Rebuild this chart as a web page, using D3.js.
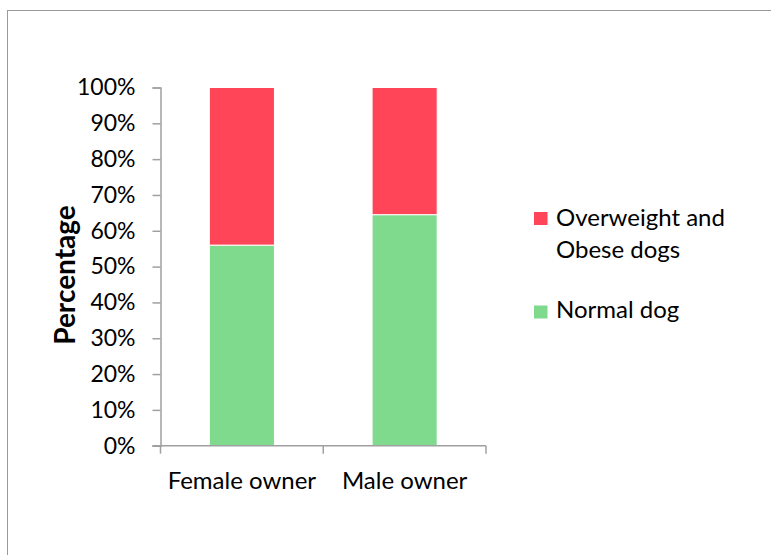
<!DOCTYPE html>
<html>
<head>
<meta charset="utf-8">
<script src="https://cdn.jsdelivr.net/npm/d3@7"></script>
<style>
  html, body { margin: 0; padding: 0; background: #fff; }
  svg { display: block; }
  text { font-family: Lato, "Open Sans", sans-serif; fill: #000; }
</style>
</head>
<body>
<svg id="chart" width="771" height="555"></svg>
<script>
// Owner groups and the share of dogs in each weight class
const categories = ["Female owner", "Male owner"];
const normalDog = [0.56, 0.645];
const overweightObese = [0.44, 0.355];
const seriesNames = ["Normal dog", "Overweight and Obese dogs"];
const seriesColors = ["#7fda8e", "#ff4557"];
const yTicks = [0, 0.1, 0.2, 0.3, 0.4, 0.5, 0.6, 0.7, 0.8, 0.9, 1.0];

const svg = d3.select("#chart");

// outer chart frame
svg.append("rect")
  .attr("x", 7.5).attr("y", 10.5)
  .attr("width", 800).attr("height", 600)
  .attr("fill", "none").attr("stroke", "#9a9a9a").attr("stroke-width", 1);

const plot = { left: 160.5, right: 486, top: 87.5, bottom: 445.7 };

const x = d3.scaleBand()
  .domain(categories)
  .range([plot.left, plot.right])
  .paddingInner(0.6).paddingOuter(0.3);

const y = d3.scaleLinear().domain([0, 1]).range([plot.bottom, plot.top]);

const rows = categories.map((c, i) => ({ cat: c, normal: normalDog[i], over: overweightObese[i] }));
const stacked = d3.stack().keys(["normal", "over"])(rows);

svg.append("g").selectAll("g")
  .data(stacked)
  .join("g")
  .attr("fill", (d, i) => seriesColors[i])
  .selectAll("rect")
  .data(d => d)
  .join("rect")
  .attr("x", d => x(d.data.cat))
  .attr("width", x.bandwidth())
  .attr("y", d => y(d[1]))
  .attr("height", d => y(d[0]) - y(d[1]))
  .attr("stroke", "#fff")
  .attr("stroke-width", 1);

// y axis
const yAxis = svg.append("g")
  .attr("transform", `translate(${plot.left},0)`)
  .call(d3.axisLeft(y).tickValues(yTicks).tickFormat(d3.format(".0%")).tickSize(8).tickPadding(17));
yAxis.select(".domain").attr("stroke", "#a0a0a0").attr("stroke-width", 1.5);
yAxis.selectAll(".tick line").attr("stroke", "#a0a0a0").attr("stroke-width", 1.5);
yAxis.selectAll("text").style("font-size", "23px").attr("fill", "#000");

// x axis with tick marks at category boundaries
const xAxisG = svg.append("g").attr("transform", `translate(0,${plot.bottom})`);
xAxisG.append("line")
  .attr("x1", plot.left - 8).attr("x2", plot.right)
  .attr("stroke", "#a0a0a0").attr("stroke-width", 1.5);
const boundaries = [plot.left, (plot.left + plot.right) / 2, plot.right];
xAxisG.selectAll("line.bound")
  .data(boundaries)
  .join("line")
  .attr("class", "bound")
  .attr("x1", d => d).attr("x2", d => d)
  .attr("y1", 0).attr("y2", 8)
  .attr("stroke", "#a0a0a0").attr("stroke-width", 1.5);
xAxisG.selectAll("text")
  .data(categories)
  .join("text")
  .attr("x", d => x(d) + x.bandwidth() / 2)
  .attr("y", 43)
  .attr("text-anchor", "middle")
  .style("font-size", "24px")
  .text(d => d);

// y axis title
svg.append("text")
  .attr("transform", `translate(75,275) rotate(-90)`)
  .attr("text-anchor", "middle")
  .style("font-size", "28px")
  .style("font-weight", "bold")
  .text("Percentage");

// legend
const legend = svg.append("g");
const legendItems = [
  { color: seriesColors[1], lines: ["Overweight and", "Obese dogs"], y: 218.5, base: 226 },
  { color: seriesColors[0], lines: ["Normal dog"], y: 312, base: 318 }
];
legendItems.forEach(item => {
  legend.append("rect")
    .attr("x", 534).attr("y", item.y - 6.5)
    .attr("width", 13.5).attr("height", 13)
    .attr("fill", item.color);
  item.lines.forEach((ln, j) => {
    legend.append("text")
      .attr("x", 556).attr("y", item.base + j * 32)
      .style("font-size", "24px")
      .text(ln);
  });
});
</script>
</body>
</html>
